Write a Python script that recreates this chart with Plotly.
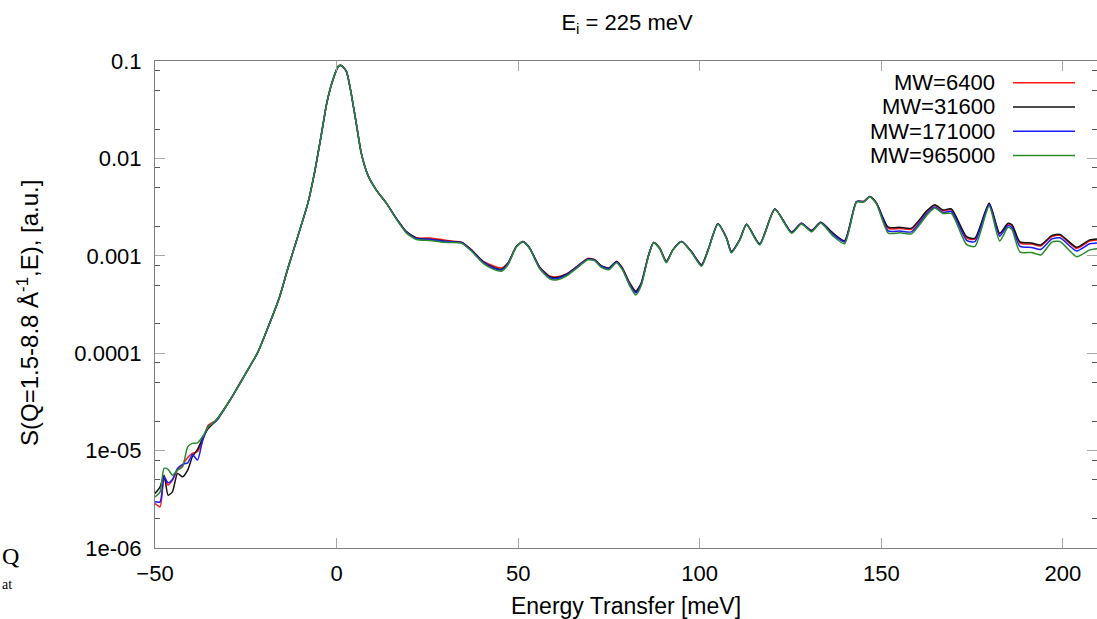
import plotly.graph_objects as go

# Energy transfer grid [meV]
E_MEV = [-50.0, -48.6, -47.5, -46.4, -45.2, -43.8, -42.4, -41.0, -39.7, -38.3, -36.9, -35.3, -33.1,
         -29.5, -26.7, -24.0, -21.8, -18.5, -15.7, -13.4, -10.7, -7.9, -6.1, -4.2, -2.7, -1.0, 0.5, 1.3,
         2.7, 4.0, 5.4, 6.8, 8.6, 10.9, 13.7, 16.4, 19.2, 22.0, 25.6, 29.3, 31.6, 34.4,
         37.1, 40.3, 43.1, 45.4, 47.2, 49.5, 51.3, 53.2, 55.9, 58.7,
         60.5, 63.3, 66.0, 69.2, 71.1, 72.9, 75.0, 77.1, 78.7, 80.7,
         82.4, 83.9, 85.8, 87.3, 89.0, 90.8, 92.6, 95.0, 97.7, 100.5,
         102.3, 105.0, 107.4, 108.7, 111.0, 112.9, 116.5, 120.7, 125.3, 128.0,
         130.8, 133.3, 136.7, 139.9, 143.2, 145.2, 146.8, 148.7,
         151.9, 155.1, 158.3, 162.5, 164.7, 167.0, 169.3, 173.5, 175.8, 179.7,
         182.6, 184.9, 186.0, 188.2, 191.4, 193.9, 197.0, 199.2, 203.8, 207.4, 210.0]

S_MW6400 = [2.87e-6, 2.65e-6, 5.18e-6, 4.42e-6, 4.97e-6, 6.30e-6, 7.10e-6, 8.51e-6, 9.36e-6, 9.72e-6, 1.282e-5, 1.829e-5, 2.06e-5,
            3.23e-5, 4.90e-5, 7.21e-5, 1.00e-4, 2.00e-4, 3.78e-4, 7.46e-4, 1.57e-3, 3.47e-3, 7.06e-3, 0.0175, 0.0370, 0.0643, 0.0880, 0.0901,
            0.0782, 0.0469, 0.0231, 0.01134, 6.78e-3, 4.76e-3, 3.47e-3, 2.43e-3, 1.77e-3, 1.53e-3, 1.52e-3, 1.46e-3, 1.42e-3, 1.38e-3,
            1.160e-3, 8.80e-4, 7.90e-4, 7.50e-4, 8.50e-4, 1.243e-3, 1.40e-3, 1.197e-3, 7.70e-4, 6.20e-4,
            6.05e-4, 6.50e-4, 7.70e-4, 9.40e-4, 9.10e-4, 7.90e-4, 7.50e-4, 8.72e-4, 7.50e-4, 5.30e-4,
            4.35e-4, 5.25e-4, 9.81e-4, 1.37e-3, 1.197e-3, 8.80e-4, 1.150e-3, 1.40e-3, 1.105e-3, 8.10e-4,
            1.150e-3, 2.13e-3, 1.52e-3, 1.105e-3, 1.457e-3, 2.11e-3, 1.326e-3, 3.03e-3, 1.748e-3, 2.16e-3,
            1.815e-3, 2.21e-3, 1.70e-3, 1.42e-3, 3.61e-3, 3.61e-3, 4.06e-3, 3.47e-3,
            1.91e-3, 1.91e-3, 1.87e-3, 2.84e-3, 3.30e-3, 2.90e-3, 2.98e-3, 1.52e-3, 1.48e-3, 3.44e-3,
            1.67e-3, 2.12e-3, 2.04e-3, 1.35e-3, 1.32e-3, 1.26e-3, 1.58e-3, 1.62e-3, 1.19e-3, 1.42e-3, 1.46e-3]

S_MW31600 = [3.63e-6, 4.24e-6, 5.60e-6, 3.49e-6, 3.77e-6, 5.83e-6, 5.38e-6, 6.30e-6, 8.64e-6, 1.029e-5, 1.335e-5, 1.691e-5, 2.06e-5,
             3.23e-5, 4.82e-5, 7.21e-5, 1.00e-4, 2.00e-4, 3.78e-4, 7.46e-4, 1.57e-3, 3.47e-3, 7.06e-3, 0.0175, 0.0370, 0.0643, 0.0880, 0.0901,
             0.0782, 0.0469, 0.0231, 0.01134, 6.78e-3, 4.76e-3, 3.47e-3, 2.43e-3, 1.77e-3, 1.52e-3, 1.48e-3, 1.42e-3, 1.40e-3, 1.37e-3,
             1.150e-3, 8.72e-4, 7.63e-4, 7.28e-4, 8.39e-4, 1.243e-3, 1.40e-3, 1.197e-3, 7.63e-4, 6.11e-4,
             5.97e-4, 6.47e-4, 7.63e-4, 9.29e-4, 9.07e-4, 7.87e-4, 7.46e-4, 8.72e-4, 7.46e-4, 5.23e-4,
             4.29e-4, 5.23e-4, 9.81e-4, 1.37e-3, 1.197e-3, 8.72e-4, 1.150e-3, 1.40e-3, 1.105e-3, 8.06e-4,
             1.150e-3, 2.13e-3, 1.52e-3, 1.105e-3, 1.457e-3, 2.11e-3, 1.326e-3, 3.03e-3, 1.748e-3, 2.16e-3,
             1.815e-3, 2.21e-3, 1.707e-3, 1.433e-3, 3.61e-3, 3.61e-3, 4.06e-3, 3.47e-3,
             1.967e-3, 1.967e-3, 1.922e-3, 2.89e-3, 3.34e-3, 2.96e-3, 3.03e-3, 1.57e-3, 1.52e-3, 3.47e-3,
             1.707e-3, 2.16e-3, 2.08e-3, 1.390e-3, 1.357e-3, 1.294e-3, 1.621e-3, 1.66e-3, 1.226e-3, 1.457e-3, 1.492e-3]

S_MW171000 = [2.98e-6, 2.98e-6, 5.38e-6, 4.67e-6, 5.06e-6, 6.57e-6, 7.22e-6, 7.49e-6, 9.14e-6, 7.99e-6, 1.261e-5, 1.757e-5, 2.01e-5,
              3.23e-5, 4.82e-5, 7.21e-5, 1.00e-4, 2.00e-4, 3.78e-4, 7.46e-4, 1.57e-3, 3.47e-3, 7.06e-3, 0.0175, 0.0370, 0.0643, 0.0880, 0.0895,
              0.0782, 0.0469, 0.0231, 0.01134, 6.78e-3, 4.76e-3, 3.47e-3, 2.43e-3, 1.75e-3, 1.50e-3, 1.47e-3, 1.41e-3, 1.39e-3, 1.36e-3,
              1.140e-3, 8.60e-4, 7.50e-4, 7.15e-4, 8.30e-4, 1.243e-3, 1.40e-3, 1.190e-3, 7.55e-4, 5.95e-4,
              5.80e-4, 6.35e-4, 7.55e-4, 9.20e-4, 9.00e-4, 7.80e-4, 7.35e-4, 8.65e-4, 7.35e-4, 5.10e-4,
              4.15e-4, 5.15e-4, 9.81e-4, 1.37e-3, 1.190e-3, 8.60e-4, 1.150e-3, 1.40e-3, 1.100e-3, 7.95e-4,
              1.150e-3, 2.13e-3, 1.51e-3, 1.090e-3, 1.457e-3, 2.11e-3, 1.310e-3, 3.03e-3, 1.730e-3, 2.15e-3,
              1.790e-3, 2.20e-3, 1.660e-3, 1.390e-3, 3.60e-3, 3.60e-3, 4.06e-3, 3.45e-3,
              1.80e-3, 1.80e-3, 1.76e-3, 2.70e-3, 3.17e-3, 2.78e-3, 2.85e-3, 1.44e-3, 1.40e-3, 3.36e-3,
              1.59e-3, 2.05e-3, 1.94e-3, 1.25e-3, 1.22e-3, 1.16e-3, 1.49e-3, 1.53e-3, 1.12e-3, 1.33e-3, 1.36e-3]

S_MW965000 = [3.35e-6, 3.77e-6, 6.57e-6, 6.41e-6, 5.60e-6, 6.30e-6, 6.82e-6, 1.094e-5, 1.186e-5, 1.202e-5, 1.386e-5, 1.757e-5, 2.06e-5,
              3.23e-5, 4.82e-5, 7.21e-5, 1.00e-4, 2.00e-4, 3.78e-4, 7.46e-4, 1.57e-3, 3.47e-3, 7.06e-3, 0.0175, 0.0370, 0.0643, 0.0880, 0.0901,
              0.0782, 0.0469, 0.0231, 0.01134, 6.78e-3, 4.76e-3, 3.47e-3, 2.40e-3, 1.72e-3, 1.47e-3, 1.44e-3, 1.38e-3, 1.37e-3, 1.35e-3,
              1.120e-3, 8.40e-4, 7.30e-4, 6.95e-4, 8.10e-4, 1.230e-3, 1.39e-3, 1.180e-3, 7.40e-4, 5.80e-4,
              5.65e-4, 6.20e-4, 7.40e-4, 9.10e-4, 8.90e-4, 7.60e-4, 7.20e-4, 8.50e-4, 7.20e-4, 4.95e-4,
              3.95e-4, 4.95e-4, 9.60e-4, 1.36e-3, 1.180e-3, 8.50e-4, 1.140e-3, 1.39e-3, 1.090e-3, 7.80e-4,
              1.130e-3, 2.11e-3, 1.50e-3, 1.070e-3, 1.440e-3, 2.09e-3, 1.290e-3, 3.00e-3, 1.700e-3, 2.12e-3,
              1.760e-3, 2.17e-3, 1.600e-3, 1.330e-3, 3.55e-3, 3.58e-3, 4.04e-3, 3.40e-3,
              1.71e-3, 1.72e-3, 1.68e-3, 2.60e-3, 3.10e-3, 2.72e-3, 2.72e-3, 1.30e-3, 1.25e-3, 3.22e-3,
              1.42e-3, 1.96e-3, 1.85e-3, 1.09e-3, 1.08e-3, 1.02e-3, 1.38e-3, 1.40e-3, 0.98e-3, 1.15e-3, 1.19e-3]

SERIES_NAMES = ["MW=6400", "MW=31600", "MW=171000", "MW=965000"]
SERIES_VALUES = [S_MW6400, S_MW31600, S_MW171000, S_MW965000]
SERIES_COLORS = ["#ff1a1a", "#111111", "#1a1aff", "#2a8a2a"]

X_TICKS = [-50, 0, 50, 100, 150, 200]
Y_TICKS = [1e-6, 1e-5, 1e-4, 1e-3, 1e-2, 1e-1]
Y_TICKTEXT = ["1e-06", "1e-05", "0.0001", "0.001", "0.01", "0.1"]
Y_MINOR = [m * 10.0 ** k for k in range(-6, -1) for m in (2, 5, 8)]

W, H = 1097, 619
ML, MR, MT, MB = 155, 0, 61, 71
PW, PH = W - ML - MR, H - MT - MB
FONT = "Liberation Sans, Arial, Helvetica, sans-serif"


def px(x):
    return (x - ML) / PW


def py(y):
    return (H - MB - y) / PH


fig = go.Figure()
for name, vals, col in zip(SERIES_NAMES, SERIES_VALUES, SERIES_COLORS):
    fig.add_trace(go.Scatter(x=E_MEV, y=vals, mode="lines", name=name,
                             line=dict(color=col, width=1.5, shape="spline", smoothing=0.6),
                             showlegend=False))

# key in the upper right: label first, then a line sample
annotations = []
shapes = []
for i, (name, col) in enumerate(zip(SERIES_NAMES, SERIES_COLORS)):
    yrow = 82.7 + 24.3 * i
    annotations.append(dict(x=px(997), y=py(yrow), xref="paper", yref="paper", text=name,
                            showarrow=False, xanchor="right", yanchor="middle",
                            font=dict(family=FONT, size=22, color="black")))
    shapes.append(dict(type="line", xref="paper", yref="paper", x0=px(1013), x1=px(1075),
                       y0=py(yrow), y1=py(yrow), line=dict(color=col, width=1.5)))

# y-axis title, rotated
annotations.append(dict(x=px(28), y=py(313), xref="paper", yref="paper",
                        text="S(Q=1.5-8.8 Å<sup>-1</sup>,E), [a.u.]", textangle=-90,
                        showarrow=False, xanchor="center", yanchor="middle",
                        font=dict(family=FONT, size=24, color="black")))

# text fragments at the lower left page edge
annotations.append(dict(x=px(0), y=py(556), xref="paper", yref="paper", text="Q",
                        showarrow=False, xanchor="left", yanchor="middle",
                        font=dict(family="Liberation Serif, serif", size=24, color="black")))
annotations.append(dict(x=px(0), y=py(584), xref="paper", yref="paper", text="at",
                        showarrow=False, xanchor="left", yanchor="middle",
                        font=dict(family="Liberation Serif, serif", size=14, color="black")))

axis_common = dict(showline=True, linecolor="#808080", linewidth=1, mirror="ticks",
                   ticks="inside", ticklen=10, tickcolor="#a8a8a8", tickwidth=1,
                   showgrid=False, zeroline=False,
                   tickfont=dict(family=FONT, size=22, color="black"))

fig.update_layout(
    width=W, height=H, autosize=False,
    margin=dict(l=ML, r=MR, t=MT, b=MB),
    paper_bgcolor="white", plot_bgcolor="white",
    font=dict(family=FONT, color="black"),
    title=dict(text="E<sub>i</sub> = 225 meV", x=px(627), xref="paper", xanchor="center",
               y=1 - 22 / H, yref="container", yanchor="middle",
               font=dict(family=FONT, size=22, color="black")),
    xaxis=dict(range=[-50, 209.4], tickmode="array", tickvals=X_TICKS,
               title=dict(text="Energy Transfer [meV]", standoff=13,
                          font=dict(family=FONT, size=23, color="black")),
               ticklabelstandoff=6, **axis_common),
    yaxis=dict(type="log", range=[-6, -1], tickmode="array", tickvals=Y_TICKS, ticktext=Y_TICKTEXT,
               minor=dict(tickmode="array", tickvals=Y_MINOR, ticks="inside", ticklen=5,
                          tickcolor="#555555", tickwidth=1),
               ticklabelstandoff=8, **axis_common),
    annotations=annotations,
    shapes=shapes,
)

fig.write_html("out.html")
